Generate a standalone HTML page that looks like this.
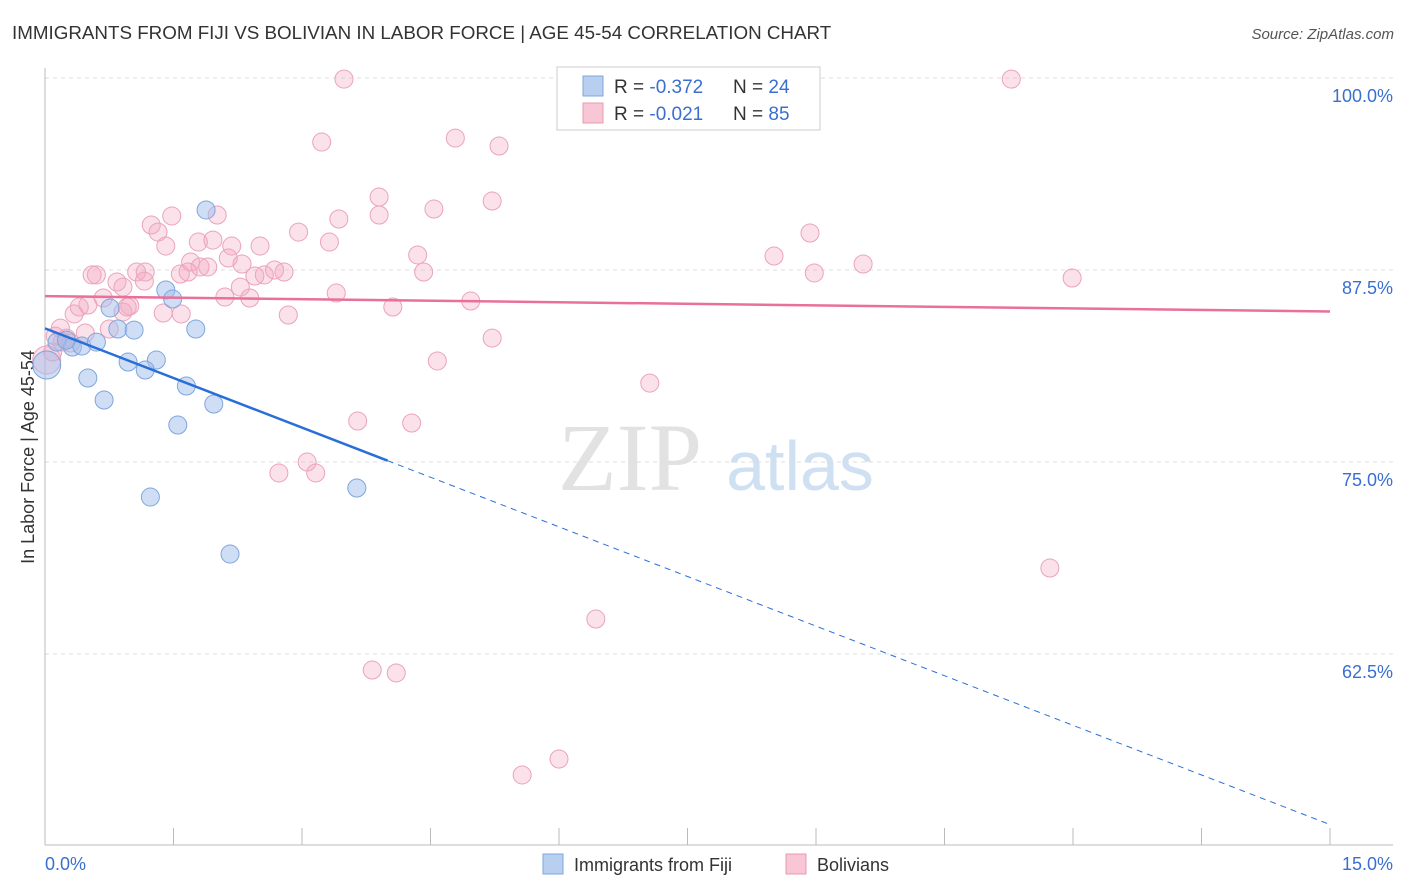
<!DOCTYPE html>
<html><head><meta charset="utf-8"><style>
body{margin:0;background:#fff;font-family:"Liberation Sans",sans-serif;}
#wrap{position:relative;width:1406px;height:892px;overflow:hidden;}
</style></head><body>
<div id="wrap">
<svg id="svg" width="1406" height="892" xmlns="http://www.w3.org/2000/svg">
<text x="12" y="39" font-size="18.8" fill="#333">IMMIGRANTS FROM FIJI VS BOLIVIAN IN LABOR FORCE | AGE 45-54 CORRELATION CHART</text>
<text x="1394" y="39" font-size="15" fill="#555" text-anchor="end" font-style="italic">Source: ZipAtlas.com</text>
<text x="34" y="457" font-size="18" fill="#333" text-anchor="middle" transform="rotate(-90 34 457)">In Labor Force | Age 45-54</text>
<text x="630" y="490" font-size="96" fill="#e2e2e2" font-family="Liberation Serif,serif" text-anchor="middle">ZIP</text>
<text x="800" y="490" font-size="70" fill="#cfe0f3" text-anchor="middle">atlas</text>
<g id="grid"></g><g id="marks"></g><g id="lines"></g>
<g>
<rect x="557" y="67" width="263" height="63" fill="#fff" stroke="#ccc"/>
<rect x="583" y="76" width="20" height="20" fill="#b8cff0" stroke="#7fa6dd"/>
<rect x="583" y="103" width="20" height="20" fill="#f8c6d5" stroke="#e99ab4"/>
<text x="614" y="93" font-size="19" fill="#333">R = <tspan fill="#3a6fd0">-0.372</tspan></text>
<text x="733" y="93" font-size="19" fill="#333">N = <tspan fill="#3a6fd0">24</tspan></text>
<text x="614" y="120" font-size="19" fill="#333">R = <tspan fill="#3a6fd0">-0.021</tspan></text>
<text x="733" y="120" font-size="19" fill="#333">N = <tspan fill="#3a6fd0">85</tspan></text>
</g>
<g>
<rect x="543" y="854" width="20" height="20" fill="#b8cff0" stroke="#7fa6dd"/>
<text x="574" y="871" font-size="18" fill="#333">Immigrants from Fiji</text>
<rect x="786" y="854" width="20" height="20" fill="#f8c6d5" stroke="#e99ab4"/>
<text x="817" y="871" font-size="18" fill="#333">Bolivians</text>
</g>
</svg></div>
<script>
const yTicks=[100,87.5,75,62.5];
const yTickLabels=["100.0%","87.5%","75.0%","62.5%"];
const xTickCount=10;
const xMin=0,xMax=15,yMin=50.07,yMax=100;
const fijiX=[1.88,1.41,1.49,0.76,0.85,1.04,1.76,0.14,0.32,0.43,0.60,0.25,1.30,0.97,1.17,0.50,1.65,0.69,1.97,1.55,1.23,3.64,2.16,0.02];
const fijiY=[91.41,86.20,85.61,85.03,83.66,83.59,83.66,82.81,82.49,82.55,82.81,82.94,81.64,81.51,80.99,80.47,79.95,79.04,78.78,77.41,72.72,73.31,69.01,81.32];
const bolX=[3.49,11.28,3.23,4.79,5.30,3.90,5.22,4.54,3.90,3.43,1.48,2.01,1.24,1.32,2.96,3.32,1.41,1.79,1.96,2.18,2.51,4.35,8.51,8.93,9.55,8.98,11.99,1.70,2.14,2.30,1.90,1.81,1.58,1.67,1.07,1.17,0.60,0.55,2.56,2.79,2.45,2.68,4.42,0.84,0.91,2.28,2.10,2.39,3.40,4.97,4.06,0.68,0.50,0.40,0.99,0.34,1.38,1.59,2.84,0.18,0.75,0.47,0.25,0.20,5.22,4.58,7.06,3.65,4.28,3.06,2.73,3.16,11.73,6.43,3.82,4.10,6.00,5.57,0.02,0.09,0.30,0.91,0.96,0.12,1.16];
const bolY=[99.93,99.93,95.83,96.09,95.57,92.25,91.99,91.47,91.08,90.82,91.02,91.08,90.43,89.97,89.97,89.32,89.06,89.32,89.45,89.06,89.06,88.48,88.41,89.91,87.89,87.31,86.98,88.02,88.28,87.89,87.70,87.70,87.24,87.37,87.37,87.37,87.18,87.18,87.18,87.37,87.11,87.50,87.37,86.72,86.39,86.39,85.74,85.68,86.00,85.48,85.09,85.68,85.22,85.09,85.16,84.64,84.70,84.64,84.57,83.72,83.66,83.40,83.07,82.81,83.07,81.58,80.14,77.67,77.54,75.00,74.29,74.29,68.10,64.78,61.46,61.27,55.67,54.63,81.64,82.16,82.75,84.77,85.09,83.20,86.78];
const fijiTrend=[83.7,51.4], fijiSolidEnd=4.0;
const bolTrend=[85.8,84.8];
const NS="http://www.w3.org/2000/svg";
const X0=45,X1=1330,Y0=845,Y1=78;
const sx=v=>X0+(v-xMin)/(xMax-xMin)*(X1-X0);
const sy=v=>Y0-(v-yMin)/(yMax-yMin)*(Y0-Y1);
function mk(tag,attrs,parent){const e=document.createElementNS(NS,tag);for(const k in attrs)e.setAttribute(k,attrs[k]);parent.appendChild(e);return e;}
const grid=document.getElementById('grid'),marks=document.getElementById('marks'),lines=document.getElementById('lines');
yTicks.forEach((t,i)=>{
 const l=mk('line',{x1:45,x2:1393,y1:sy(t),y2:sy(t),stroke:'#ddd','stroke-dasharray':'4 4'},grid);
 
 
 const tx=mk('text',{x:1393,y:sy(t)+24,'font-size':18,fill:'#3a6fd0','text-anchor':'end'},grid);
 tx.textContent=yTickLabels[i];
 
 
});
const ax=mk('line',{x1:45,x2:1393,y1:845,y2:845,stroke:'#bbb'},grid);


const ay=mk('line',{x1:45,x2:45,y1:68,y2:845,stroke:'#bbb'},grid);


for(let i=0;i<=xTickCount;i++){
 const v=xMin+(xMax-xMin)*i/xTickCount;
 const t=mk('line',{x1:sx(v),x2:sx(v),y1:828,y2:845,stroke:'#bbb'},grid);
 
 
}
const xl0=mk('text',{x:45,y:870,'font-size':18,fill:'#3a6fd0'},grid);xl0.textContent=xMin.toFixed(1)+'%';


const xl1=mk('text',{x:1393,y:870,'font-size':18,fill:'#3a6fd0','text-anchor':'end'},grid);xl1.textContent=xMax.toFixed(1)+'%';


bolX.forEach((x,i)=>{
 const r=(i===78)?14:9;
 const c=mk('circle',{cx:sx(x),cy:sy(bolY[i]),r:r,fill:'rgba(244,170,195,0.35)',stroke:'#eba3bb','stroke-width':1},marks);
 
 
});
fijiX.forEach((x,i)=>{
 const r=(i===23)?14:9;
 const c=mk('circle',{cx:sx(x),cy:sy(fijiY[i]),r:r,fill:'rgba(160,190,235,0.5)',stroke:'#7fa6dd','stroke-width':1},marks);
 
 
});
const fy=x=>fijiTrend[0]+(fijiTrend[1]-fijiTrend[0])*(x-xMin)/(xMax-xMin);
const l1=mk('line',{x1:sx(xMin),y1:sy(bolTrend[0]),x2:sx(xMax),y2:sy(bolTrend[1]),stroke:'#e8709a','stroke-width':2.5},lines);


const l2=mk('line',{x1:sx(xMin),y1:sy(fy(xMin)),x2:sx(fijiSolidEnd),y2:sy(fy(fijiSolidEnd)),stroke:'#2a6fd8','stroke-width':2.5},lines);


const l3=mk('line',{x1:sx(fijiSolidEnd),y1:sy(fy(fijiSolidEnd)),x2:sx(xMax),y2:sy(fy(xMax)),stroke:'#2a6fd8','stroke-width':1,'stroke-dasharray':'6 5'},lines);


</script>
</body></html>
